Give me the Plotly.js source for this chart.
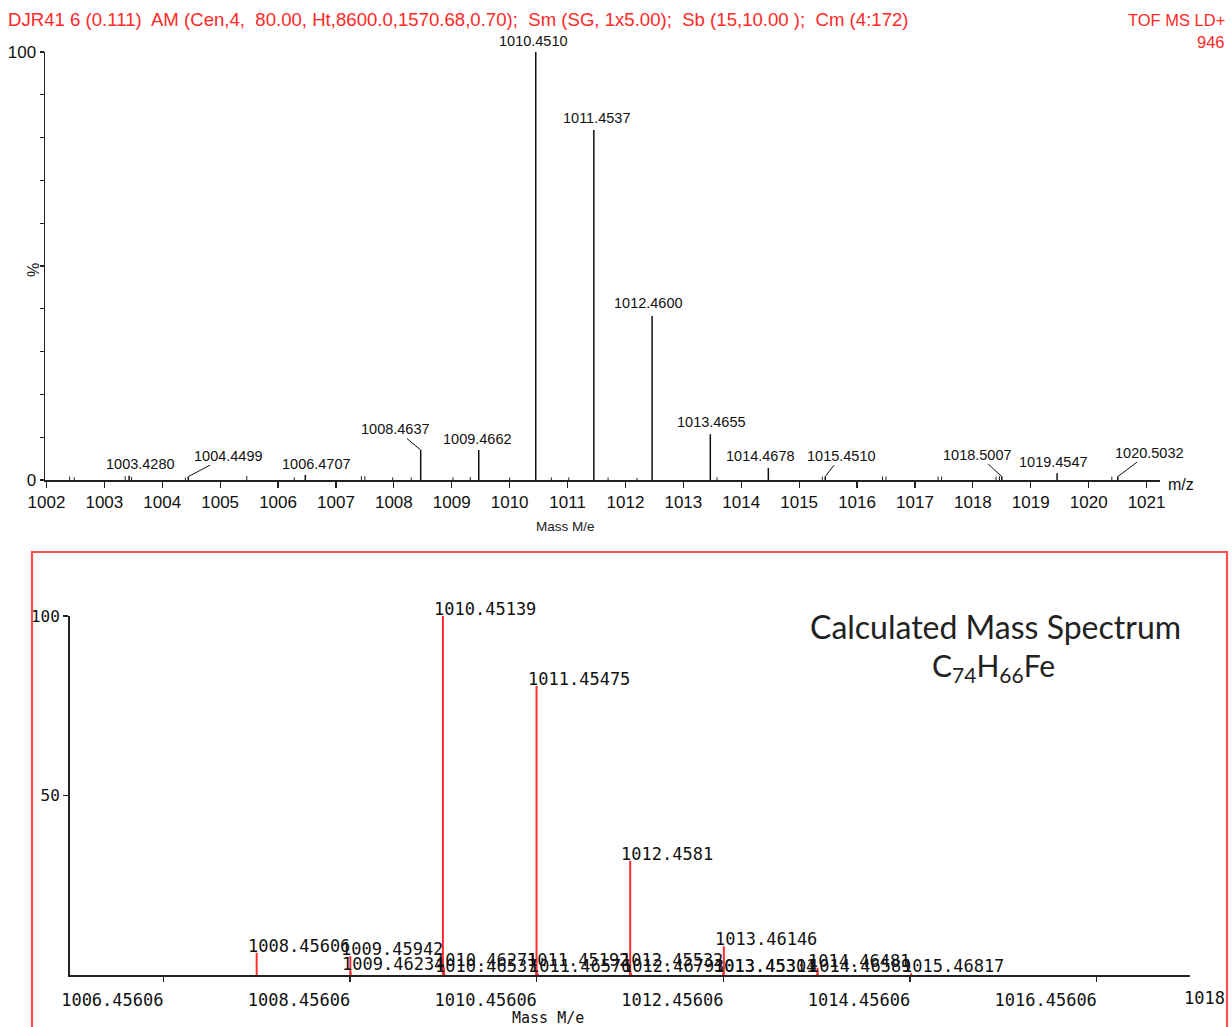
<!DOCTYPE html>
<html>
<head>
<meta charset="utf-8">
<script src="https://cdn.plot.ly/plotly-3.0.1.min.js"></script>
<style>html,body{margin:0;padding:0;background:#fff;}#chart{width:1232px;height:1027px;}</style>
</head>
<body>
<div id="chart"></div>
<script>
// ---------- DATA ----------
// Measured spectrum (top panel): labelled peaks
const measMz    = [1003.4280, 1004.4499, 1006.4707, 1008.4637, 1009.4662, 1010.4510, 1011.4537, 1012.4600, 1013.4655, 1014.4678, 1015.4510, 1018.5007, 1019.4547, 1020.5032];
const measInt   = [1.0, 0.8, 1.2, 7.0, 7.0, 100, 81.8, 38.3, 10.7, 2.8, 0.8, 0.8, 1.6, 0.8];
const measLabel = ['1003.4280','1004.4499','1006.4707','1008.4637','1009.4662','1010.4510','1011.4537','1012.4600','1013.4655','1014.4678','1015.4510','1018.5007','1019.4547','1020.5032'];
// Measured spectrum: small unlabelled baseline peaks
const noiseMz  = [1002.40, 1002.48, 1003.36, 1003.47, 1004.40, 1005.46, 1006.28, 1007.44, 1007.50, 1007.98, 1008.30, 1009.02, 1009.32, 1010.00, 1010.72, 1011.02, 1011.70, 1012.20, 1013.58, 1015.40, 1016.44, 1016.50, 1017.40, 1017.46, 1018.40, 1018.46, 1020.40];
const noiseInt = [0.8, 0.6, 0.9, 0.7, 0.6, 0.9, 0.6, 0.9, 0.9, 0.6, 0.6, 0.6, 0.7, 0.6, 0.6, 0.6, 0.6, 0.5, 0.6, 0.8, 0.8, 0.8, 0.8, 0.8, 0.8, 0.9, 0.8];
const measXTicks = [1002,1003,1004,1005,1006,1007,1008,1009,1010,1011,1012,1013,1014,1015,1016,1017,1018,1019,1020,1021];
const measYTicks = [0, 100];

// Calculated spectrum (bottom panel)
const calcMz    = [1008.45606, 1009.45942, 1009.46234, 1010.45139, 1010.46271, 1010.46537, 1011.45192, 1011.45475, 1011.46576, 1012.45532, 1012.4581, 1012.46793, 1013.45304, 1013.45311, 1013.46146, 1014.46481, 1014.46589, 1015.46817];
const calcInt   = [6.2, 5.3, 1.0, 100, 2.2, 0.6, 2.2, 80.5, 0.6, 2.2, 31.8, 0.6, 0.6, 0.5, 8.0, 2.0, 0.6, 0.5];
const calcLabel = ['1008.45606','1009.45942','1009.46234','1010.45139','1010.46271','1010.46537','1011.45192','1011.45475','1011.46576','1012.45532','1012.4581','1012.46793','1013.45304','1013.45311','1013.46146','1014.46481','1014.46589','1015.46817'];
const calcXTicks = [1007.45606, 1009.45606, 1011.45606, 1013.45606, 1015.45606, 1017.45606];
const calcXTickText = ['1006.45606','1008.45606','1010.45606','1012.45606','1014.45606','1016.45606'];
const calcYTicks = [50, 100];

// ---------- STYLE / PLACEMENT (not data) ----------
// label placement for top panel: [mode, dx, dy]; 'd' = directly above, 'l' = with leader line
const measLabelPlace = {
  '1003.4280':['d',11,2], '1004.4499':['l',40,-21], '1006.4707':['d',11,1],
  '1008.4637':['l',-25,-21], '1009.4662':['d',-1,1], '1010.4510':['d',-2,1.5],
  '1011.4537':['d',3,2], '1012.4600':['d',-4,3.5], '1013.4655':['d',1,2],
  '1014.4678':['d',-8,2], '1015.4510':['l',16,-21], '1018.5007':['l',-24,-22],
  '1019.4547':['d',-4,1], '1020.5032':['l',32,-24]
};

function sticks(xs, ys) {
  const x = [], y = [];
  xs.forEach((m, i) => { x.push(m, m, null); y.push(0, ys[i], null); });
  return {x, y};
}

const RED = 'rgb(255,45,45)';
const HDR = 'rgb(255,40,40)';
const sans = 'Liberation Sans, Arial, sans-serif';
const mono = 'DejaVu Sans Mono, monospace';
const NB = '\u00a0';

const s1 = sticks(measMz, measInt);
const s1n = sticks(noiseMz, noiseInt);
const s2 = sticks(calcMz, calcInt);

const traces = [
  {type:'scatter', mode:'lines', x:s1n.x, y:s1n.y, xaxis:'x', yaxis:'y', line:{color:'#222', width:1}, hoverinfo:'skip'},
  {type:'scatter', mode:'lines', x:s1.x, y:s1.y, xaxis:'x', yaxis:'y', line:{color:'#111', width:1.5}, hoverinfo:'skip'},
  {type:'scatter', mode:'lines', x:s2.x, y:s2.y, xaxis:'x2', yaxis:'y2', line:{color:RED, width:2}, hoverinfo:'skip'}
];

const annotations = [];
measMz.forEach((m, i) => {
  const lab = measLabel[i];
  const p = measLabelPlace[lab];
  if (p[0] === 'd') {
    annotations.push({xref:'x', yref:'y', x:m, y:measInt[i], text:lab, showarrow:false,
      xanchor:'center', yanchor:'bottom', xshift:p[1], yshift:p[2],
      font:{family:sans, size:14.5, color:'#111'}});
  } else {
    annotations.push({xref:'x', yref:'y', x:m, y:measInt[i], text:lab, showarrow:true,
      arrowhead:0, arrowwidth:1, arrowcolor:'#111', ax:p[1], ay:p[2], standoff:0,
      font:{family:sans, size:14.5, color:'#111'}});
  }
});
calcMz.forEach((m, i) => {
  annotations.push({xref:'x2', yref:'y2', x:m, y:calcInt[i], text:calcLabel[i], showarrow:false,
    xanchor:'left', yanchor:'bottom', xshift:-11, yshift:-5,
    font:{family:mono, size:17, color:'#111'}});
});

// header and panel texts
annotations.push(
  {xref:'paper', yref:'paper', x:6/1232, y:1-20/1027, xanchor:'left', yanchor:'middle', showarrow:false,
   text:'DJR41 6 (0.111)'+NB+' AM (Cen,4,'+NB+' 80.00, Ht,8600.0,1570.68,0.70);'+NB+' Sm (SG, 1x5.00);'+NB+' Sb (15,10.00 );'+NB+' Cm (4:172)',
   font:{family:sans, size:18.6, color:HDR}},
  {xref:'paper', yref:'paper', x:1227/1232, y:1-20/1027, xanchor:'right', yanchor:'middle', showarrow:false,
   text:'TOF MS LD+', font:{family:sans, size:16.5, color:HDR}},
  {xref:'paper', yref:'paper', x:1227/1232, y:1-42/1027, xanchor:'right', yanchor:'middle', showarrow:false,
   text:'946', font:{family:sans, size:16.5, color:HDR}},
  {xref:'paper', yref:'paper', x:33/1232, y:1-270/1027, xanchor:'center', yanchor:'middle', showarrow:false,
   text:'%', textangle:-90, font:{family:sans, size:16, color:'#222'}},
  {xref:'paper', yref:'paper', x:1166/1232, y:1-484/1027, xanchor:'left', yanchor:'middle', showarrow:false,
   text:'m/z', font:{family:sans, size:16, color:'#111'}},
  {xref:'paper', yref:'paper', x:565/1232, y:1-526/1027, xanchor:'center', yanchor:'middle', showarrow:false,
   text:'Mass M/e', font:{family:sans, size:13.5, color:'#222'}},
  {xref:'paper', yref:'paper', x:1182/1232, y:1-998/1027, xanchor:'left', yanchor:'middle', showarrow:false,
   text:'1018', font:{family:mono, size:17, color:'#111'}},
  {xref:'paper', yref:'paper', x:548/1232, y:1-1018/1027, xanchor:'center', yanchor:'middle', showarrow:false,
   text:'Mass M/e', font:{family:mono, size:15, color:'#111'}},
  {xref:'paper', yref:'paper', x:995/1232, y:1-626/1027, xanchor:'center', yanchor:'middle', showarrow:false,
   text:'Calculated Mass Spectrum', font:{family:'Lato, sans-serif', size:32, color:'#222'}},
  {xref:'paper', yref:'paper', x:993/1232, y:1-667/1027, xanchor:'center', yanchor:'middle', showarrow:false,
   text:'C<sub>74</sub>H<sub>66</sub>Fe', font:{family:'Lato, sans-serif', size:30, color:'#222'}}
);

const layout = {
  width:1232, height:1027,
  margin:{l:0, r:0, t:0, b:0},
  paper_bgcolor:'#fff', plot_bgcolor:'rgba(0,0,0,0)',
  showlegend:false,
  xaxis:{domain:[45/1232, 1160/1232], range:[1001.975, 1021.232], anchor:'y',
    showgrid:false, zeroline:false, showline:true, linecolor:'#222', linewidth:1.5,
    ticks:'outside', ticklen:6, tickwidth:1.2, tickcolor:'#222',
    tickvals:measXTicks, tickfont:{family:sans, size:17, color:'#111'}},
  yaxis:{domain:[(1027-480)/1027, (1027-52)/1027], range:[0,100], anchor:'x',
    showgrid:false, zeroline:false, showline:true, linecolor:'#222', linewidth:1.5,
    ticks:'outside', ticklen:4, tickwidth:1.2, tickcolor:'#222',
    tickvals:measYTicks, ticklabelstandoff:0,
    minor:{tick0:0, dtick:10, ticks:'outside', ticklen:4, tickwidth:1.2, tickcolor:'#222', showgrid:false},
    tickfont:{family:sans, size:17, color:'#111'}},
  xaxis2:{domain:[70/1232, 1190/1232], range:[1006.45606, 1018.45606], anchor:'y2',
    showgrid:false, zeroline:false, showline:true, linecolor:'#222', linewidth:2,
    ticks:'outside', ticklen:5, tickwidth:1.5, tickcolor:'#222',
    tickvals:calcXTicks, ticktext:calcXTickText, ticklabelshift:-51, ticklabelstandoff:4,
    tickfont:{family:mono, size:17, color:'#111'}},
  yaxis2:{domain:[(1027-975)/1027, (1027-616)/1027], range:[0,100], anchor:'x2',
    showgrid:false, zeroline:false, showline:true, linecolor:'#222', linewidth:2,
    ticks:'outside', ticklen:5, tickwidth:1.5, tickcolor:'#222',
    tickvals:calcYTicks, ticklabelstandoff:0,
    tickfont:{family:mono, size:16, color:'#111'}},
  shapes:[
    {type:'rect', xref:'paper', yref:'paper', x0:32/1232, x1:1227/1232, y0:-0.05, y1:(1027-552)/1027,
     line:{color:'rgb(255,80,80)', width:2.2}, fillcolor:'rgba(0,0,0,0)'}
  ],
  annotations: annotations
};

Plotly.newPlot('chart', traces, layout, {displayModeBar:false, staticPlot:true});
</script>
</body>
</html>
